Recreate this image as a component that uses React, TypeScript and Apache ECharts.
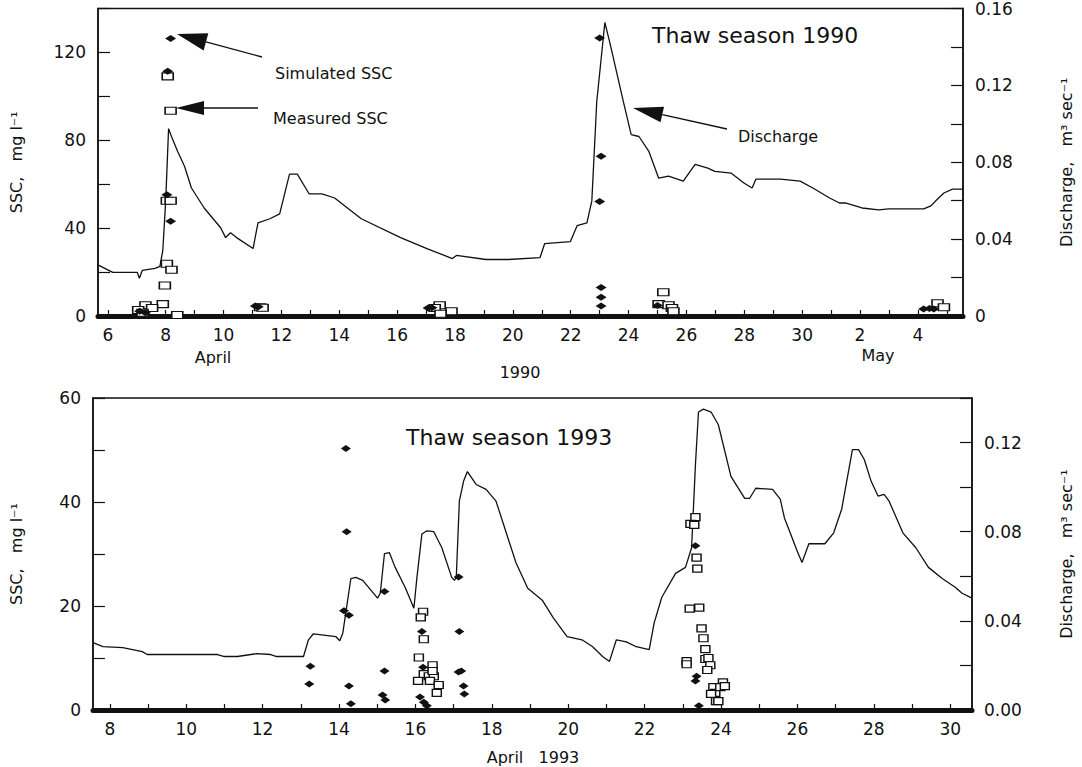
import React, { useEffect, useRef } from "react";
import * as echarts from "echarts";

const FONT = "DejaVu Sans";
const INK = "#111";

// ---- Thaw season 1990 (x = day of April; days of May are 30 + d) ----
const discharge1990: [number, number][] = [
  [5.69, 0.0263], [6.17, 0.0227], [7.02, 0.0227], [7.09, 0.0196], [7.19, 0.0237],
  [7.63, 0.0248], [7.8, 0.0258], [7.9, 0.0341], [8.0, 0.0599], [8.1, 0.0975],
  [8.2, 0.0934], [8.41, 0.0857], [8.65, 0.0779], [8.89, 0.0666], [9.33, 0.0562],
  [9.9, 0.0459], [10.07, 0.0408], [10.24, 0.0433], [10.45, 0.0408], [11.02, 0.0351],
  [11.19, 0.0485], [11.6, 0.0506], [11.94, 0.0531], [12.28, 0.0738], [12.55, 0.0738],
  [12.96, 0.0635], [13.4, 0.0635], [13.84, 0.0614], [14.76, 0.0506], [16.12, 0.0408],
  [17.03, 0.0351], [17.91, 0.0299], [18.05, 0.0315], [19.07, 0.0294], [19.85, 0.0294],
  [20.94, 0.0304], [21.1, 0.0377], [21.99, 0.0387], [22.22, 0.047], [22.56, 0.0485],
  [22.73, 0.0599], [22.9, 0.1115], [23.18, 0.1527], [23.35, 0.1424], [23.82, 0.1115],
  [24.09, 0.0944], [24.36, 0.0934], [24.7, 0.0857], [25.04, 0.0717], [25.38, 0.0728],
  [25.89, 0.0702], [26.3, 0.0789], [26.74, 0.0769], [26.98, 0.0753], [27.55, 0.0743],
  [28.0, 0.0691], [28.27, 0.0666], [28.4, 0.0712], [29.25, 0.0712], [29.93, 0.0702],
  [30.37, 0.0666], [30.95, 0.0614], [31.29, 0.0588], [31.49, 0.0588], [32.07, 0.0562],
  [32.65, 0.0552], [32.99, 0.0557], [34.2, 0.0557], [34.45, 0.0573], [34.68, 0.0609],
  [34.9, 0.064], [35.2, 0.066], [35.57, 0.066],
];
const simulated1990: [number, number][] = [
  [8.17, 126.3], [8.07, 111.4], [8.04, 55.2], [8.17, 43.1],
  [7.1, 2.2], [7.3, 1.5], [11.1, 4.5], [11.2, 4.2], [17.07, 3.6], [17.2, 3.8],
  [23.0, 126.6], [23.05, 72.7], [23.0, 52.1], [23.05, 13.0], [23.05, 8.5], [23.05, 4.5],
  [25.0, 4.8], [34.2, 3.2], [34.4, 3.4], [34.55, 3.2],
];
const measured1990: [number, number][] = [
  [8.07, 109.1], [8.17, 93.4], [8.04, 52.5], [8.17, 52.5], [8.04, 23.8], [8.2, 21.1],
  [7.97, 13.9], [7.9, 5.4], [7.3, 4.9], [7.53, 3.6], [7.05, 2.7], [8.4, 0.5], [7.2, 1.5],
  [11.26, 4.0], [11.35, 3.8], [17.47, 4.9], [17.3, 3.6], [17.88, 2.2], [17.5, 1.0],
  [25.2, 10.8], [25.04, 5.4], [25.38, 4.9], [25.5, 3.6], [25.55, 2.2], [34.68, 5.8], [34.9, 4.0],
];

// ---- Thaw season 1993 (x = day of April) ----
const discharge1993: [number, number][] = [
  [7.56, 0.0302], [7.82, 0.0284], [8.34, 0.028], [8.85, 0.0262], [8.98, 0.0249],
  [10.82, 0.0249], [11.0, 0.024], [11.34, 0.024], [11.85, 0.0253], [12.21, 0.0249],
  [12.37, 0.024], [13.07, 0.024], [13.2, 0.0315], [13.33, 0.0342], [13.92, 0.0329],
  [14.02, 0.0311], [14.1, 0.0346], [14.31, 0.059], [14.44, 0.0595], [14.62, 0.0582],
  [15.01, 0.0502], [15.08, 0.0524], [15.19, 0.0702], [15.32, 0.0706], [15.47, 0.064],
  [15.73, 0.0551], [15.96, 0.0457], [16.04, 0.0595], [16.17, 0.079], [16.3, 0.0804],
  [16.48, 0.08], [16.69, 0.0729], [16.95, 0.0595], [17.02, 0.0582], [17.07, 0.0595],
  [17.15, 0.0937], [17.26, 0.1026], [17.36, 0.107], [17.59, 0.1012], [17.85, 0.099],
  [18.11, 0.0937], [18.42, 0.0773], [18.63, 0.0662], [18.94, 0.0546], [19.32, 0.0493],
  [19.61, 0.0413], [19.97, 0.0329], [20.36, 0.0315], [20.64, 0.0284], [20.9, 0.024],
  [21.08, 0.0218], [21.26, 0.0315], [21.52, 0.0306], [21.78, 0.0284], [22.12, 0.0271],
  [22.25, 0.0391], [22.45, 0.0506], [22.81, 0.0613], [23.07, 0.064], [23.23, 0.0728],
  [23.33, 0.11], [23.41, 0.1337], [23.54, 0.135], [23.74, 0.1337], [23.93, 0.128],
  [24.26, 0.1048], [24.62, 0.095], [24.75, 0.095], [24.91, 0.0995], [25.35, 0.099],
  [25.55, 0.0946], [25.66, 0.0862], [25.81, 0.0795], [25.99, 0.0715], [26.12, 0.0662],
  [26.3, 0.0746], [26.72, 0.0746], [26.95, 0.0795], [27.16, 0.0902], [27.29, 0.1026],
  [27.44, 0.1168], [27.6, 0.1168], [27.75, 0.1124], [27.93, 0.1026], [28.11, 0.096],
  [28.27, 0.0968], [28.4, 0.0937], [28.76, 0.0795], [29.1, 0.0728], [29.43, 0.064],
  [29.79, 0.059], [30.13, 0.0551], [30.31, 0.0524], [30.57, 0.0502],
];
const simulated1993: [number, number][] = [
  [13.25, 8.4], [13.22, 5.0], [14.18, 50.3], [14.2, 34.3], [14.13, 19.1], [14.26, 18.2],
  [14.26, 4.6], [14.31, 1.2], [15.19, 22.8], [15.19, 7.5], [15.14, 2.9], [15.21, 1.9],
  [16.17, 15.1], [16.2, 8.2], [16.12, 2.5], [16.22, 1.5], [16.3, 0.8], [17.13, 25.6],
  [17.15, 15.1], [17.13, 7.3], [17.2, 7.5], [17.26, 4.6], [17.28, 3.1], [23.33, 31.6],
  [23.36, 6.5], [23.33, 5.6], [23.42, 0.8],
];
const measured1993: [number, number][] = [
  [16.2, 18.9], [16.14, 17.8], [16.22, 13.6], [16.09, 10.1], [16.22, 6.9], [16.35, 6.5],
  [16.45, 8.6], [16.48, 6.5], [16.45, 7.5], [16.07, 5.6], [16.38, 5.6], [16.61, 4.8],
  [16.56, 3.3], [23.33, 37.1], [23.2, 35.8], [23.3, 35.6], [23.36, 29.3], [23.38, 27.2],
  [23.18, 19.5], [23.43, 19.7], [23.49, 15.7], [23.54, 13.8], [23.59, 11.7], [23.59, 9.8],
  [23.67, 10.0], [23.72, 8.6], [23.64, 7.7], [23.1, 9.4], [23.1, 8.8], [23.8, 4.4],
  [23.85, 3.3], [23.74, 3.1], [23.87, 1.7], [24.05, 5.3], [23.98, 4.4], [24.1, 4.6],
  [23.93, 1.7],
];

// ---- axis ticks and labels ----
const xTicks1990 = [6, 7, 8, 9, 10, 11, 12, 13, 14, 15, 16, 17, 18, 19, 20, 21, 22, 23, 24, 25, 26, 27, 28, 29, 30, 31, 32, 33, 34, 35];
const xLabels1990 = [6, 8, 10, 12, 14, 16, 18, 20, 22, 24, 26, 28, 30, 32, 34];
const xTicks1993 = [8, 9, 10, 11, 12, 13, 14, 15, 16, 17, 18, 19, 20, 21, 22, 23, 24, 25, 26, 27, 28, 29, 30];
const xLabels1993 = [8, 10, 12, 14, 16, 18, 20, 22, 24, 26, 28, 30];

const tickLabelStyle = { fontFamily: FONT, fontSize: 17, color: INK };
const nameStyle = { fontFamily: FONT, fontSize: 16, color: INK };

function xAxisDef(gridIndex: number, min: number, max: number, ticks: number[], labels: number[]) {
  return {
    type: "value",
    gridIndex,
    min,
    max,
    axisLine: { show: true, onZero: false, lineStyle: { color: INK, width: 5 } },
    axisTick: { show: true, inside: true, length: 6, customValues: ticks, lineStyle: { color: INK, width: 1.2 } },
    axisLabel: {
      ...tickLabelStyle,
      margin: 10,
      customValues: labels,
      formatter: (v: number) => String(v > 30 ? v - 30 : v),
    },
    splitLine: { show: false },
  };
}

function yAxisDef(
  gridIndex: number,
  position: "left" | "right",
  max: number,
  interval: number,
  formatter: (v: number) => string,
  name: string,
  nameGap: number
) {
  return {
    type: "value",
    gridIndex,
    position,
    min: 0,
    max,
    interval,
    name,
    nameLocation: "middle",
    nameRotate: 90,
    nameGap,
    nameTextStyle: nameStyle,
    axisLine: { show: true, lineStyle: { color: INK, width: 1.5 } },
    axisTick: { show: true, inside: true, length: 12, lineStyle: { color: INK, width: 1.2 } },
    axisLabel: { ...tickLabelStyle, margin: 12, formatter, showMaxLabel: true, showMinLabel: true },
    splitLine: { show: false },
  };
}

const fmtLeft90 = (v: number) => (Math.round(v) % 40 === 0 ? String(Math.round(v)) : "");
const fmtRight90 = (v: number) => {
  const c = Math.round(v * 100);
  if (c % 4 !== 0) return "";
  return c === 0 ? "0" : v.toFixed(2);
};
const fmtLeft93 = (v: number) => (Math.round(v) % 20 === 0 ? String(Math.round(v)) : "");
const fmtRight93 = (v: number) => {
  const c = Math.round(v * 100);
  return c % 4 === 0 ? v.toFixed(2) : "";
};

function arrow(tip: [number, number], from: [number, number], headLen: number, halfW: number) {
  const dx = from[0] - tip[0];
  const dy = from[1] - tip[1];
  const L = Math.hypot(dx, dy);
  const ux = dx / L;
  const uy = dy / L;
  const bx = tip[0] + ux * headLen;
  const by = tip[1] + uy * headLen;
  const px = -uy * halfW;
  const py = ux * halfW;
  return [
    {
      type: "line",
      shape: { x1: bx, y1: by, x2: from[0], y2: from[1] },
      style: { stroke: INK, lineWidth: 1.3 },
      silent: true,
    },
    {
      type: "polygon",
      shape: { points: [tip, [bx + px, by + py], [bx - px, by - py]] },
      style: { fill: INK },
      silent: true,
    },
  ];
}

function label(text: string, x: number, y: number, size: number, align = "left") {
  return {
    type: "text",
    x,
    y,
    silent: true,
    style: { text, fontFamily: FONT, fontSize: size, fill: INK, textAlign: align, textVerticalAlign: "middle" },
  };
}

const option = {
  animation: false,
  backgroundColor: "#fff",
  textStyle: { fontFamily: FONT },
  grid: [
    { left: 92, top: 6, width: 881, height: 310, show: true, borderColor: INK, borderWidth: 1.5, backgroundColor: "transparent" },
    { left: 87, top: 398, width: 890, height: 312, show: true, borderColor: INK, borderWidth: 1.5, backgroundColor: "transparent" },
  ],
  xAxis: [
    xAxisDef(0, 5.66, 35.56, xTicks1990, xLabels1990),
    xAxisDef(1, 7.56, 30.57, xTicks1993, xLabels1993),
  ],
  yAxis: [
    yAxisDef(0, "left", 140, 20, fmtLeft90, "SSC,   mg l\u207B\u00B9", 74),
    yAxisDef(0, "right", 0.16, 0.02, fmtRight90, "Discharge,   m\u00B3 sec\u207B\u00B9", 95),
    yAxisDef(1, "left", 60, 10, fmtLeft93, "SSC,   mg l\u207B\u00B9", 69),
    yAxisDef(1, "right", 0.14, 0.02, fmtRight93, "Discharge,   m\u00B3 sec\u207B\u00B9", 86),
  ],
  series: [
    {
      name: "Discharge 1990",
      type: "line",
      xAxisIndex: 0,
      yAxisIndex: 1,
      data: discharge1990,
      showSymbol: false,
      lineStyle: { color: INK, width: 1.3 },
      z: 2,
    },
    {
      name: "Measured SSC 1990",
      type: "scatter",
      xAxisIndex: 0,
      yAxisIndex: 0,
      data: measured1990,
      symbol: "rect",
      symbolSize: [11, 7],
      itemStyle: { color: "#fff", borderColor: INK, borderWidth: 1.3, opacity: 1 },
      z: 3,
    },
    {
      name: "Simulated SSC 1990",
      type: "scatter",
      xAxisIndex: 0,
      yAxisIndex: 0,
      data: simulated1990,
      symbol: "diamond",
      symbolSize: [11, 7],
      itemStyle: { color: INK, opacity: 1 },
      z: 4,
    },
    {
      name: "Discharge 1993",
      type: "line",
      xAxisIndex: 1,
      yAxisIndex: 3,
      data: discharge1993,
      showSymbol: false,
      lineStyle: { color: INK, width: 1.3 },
      z: 2,
    },
    {
      name: "Measured SSC 1993",
      type: "scatter",
      xAxisIndex: 1,
      yAxisIndex: 2,
      data: measured1993,
      symbol: "rect",
      symbolSize: [9, 7],
      itemStyle: { color: "#fff", borderColor: INK, borderWidth: 1.3, opacity: 1 },
      z: 3,
    },
    {
      name: "Simulated SSC 1993",
      type: "scatter",
      xAxisIndex: 1,
      yAxisIndex: 2,
      data: simulated1993,
      symbol: "diamond",
      symbolSize: [10, 7],
      itemStyle: { color: INK, opacity: 1 },
      z: 4,
    },
  ],
  graphic: [
    label("Thaw season 1990", 652, 35, 22),
    label("Simulated SSC", 275, 73, 16),
    label("Measured SSC", 273, 118, 16),
    label("Discharge", 738, 136, 16),
    ...arrow([177, 34], [262, 57], 30, 9),
    ...arrow([176, 108], [258, 108], 28, 7),
    ...arrow([633, 108], [727, 129], 30, 8),
    label("April", 213, 357, 16, "center"),
    label("1990", 520, 372, 16, "center"),
    label("May", 878, 355, 16, "center"),
    label("Thaw season 1993", 406, 437, 22),
    label("April   1993", 533, 757, 16, "center"),
  ],
};

export default function App() {
  const ref = useRef<HTMLDivElement>(null);
  useEffect(() => {
    if (!ref.current) return;
    const chart = echarts.init(ref.current, null, { renderer: "svg" });
    chart.setOption(option as any);
    return () => chart.dispose();
  }, []);
  return (
    <div
      ref={ref}
      style={{ position: "absolute", left: 0, top: 0, width: 1082, height: 767, background: "#fff" }}
    />
  );
}
